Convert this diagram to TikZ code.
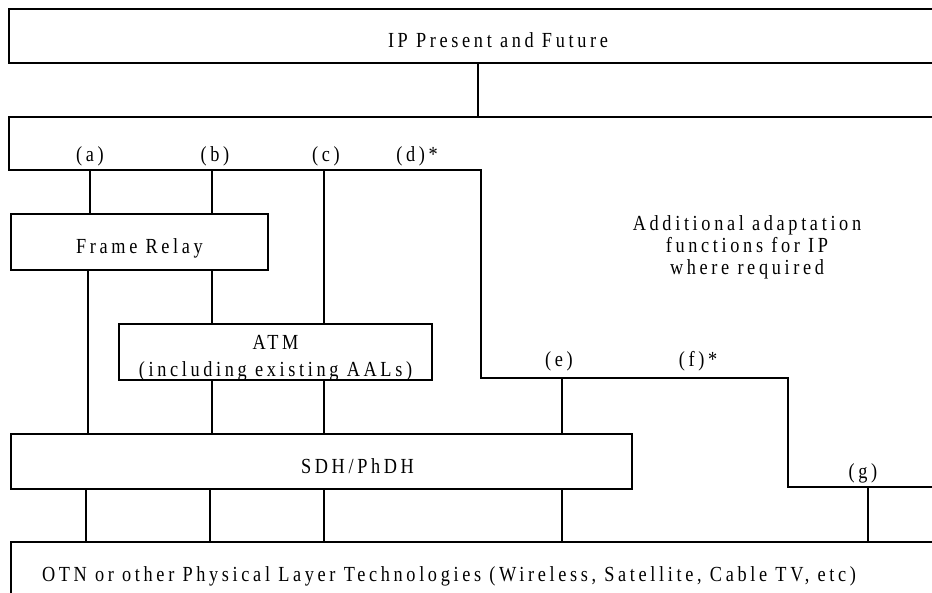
\documentclass[tikz,border=0pt]{standalone}
\usepackage{fontspec}
\setmainfont{Liberation Serif}[FakeStretch=0.85,LetterSpace=17]
\usetikzlibrary{positioning}
\tikzset{
  node distance=0mm,
  every node/.style={outer sep=0mm,inner sep=0mm},
  line/.style={line width=1.2pt}
}
\tikzset{layer/.style={
    draw,
    line width=1.2pt,
    minimum width=#1,
    minimum height=56pt,
    text height=23pt,
    text depth=0pt,
    align=center
  },
  layer/.default=3cm}
\tikzset{tag/.style={font=\fontsize{21.5}{22}\selectfont}}

\begin{document}
\begin{tikzpicture}
  [x=1pt,y=-1pt,font=\fontsize{21.5}{27}\selectfont]
  \useasboundingbox (0,0) rectangle (932,593);
  \clip (0,0) rectangle (932,593);

  \node (IP) [layer=978pt,minimum height=54pt,anchor=north west] at (9,9) {IP Present and Future};

  \node (FR) [layer=257pt,anchor=north west] at (11,214) {Frame Relay};
  \node (ATM) [layer=313pt,text height=50pt,text depth=0pt,anchor=north west] at (119,324)
    {ATM\\(including existing AALs)};
  \node (SDH) [layer=621pt,minimum height=55pt,anchor=north west,
    label={[xshift=36pt,text height=23pt,text depth=0pt]center:SDH/PhDH}] at (11,434) {};
  \node (OTN) [layer=990pt,minimum height=68pt,anchor=north west,
    label={[anchor=west,xshift=31pt]west:OTN or other Physical Layer Technologies (Wireless, Satellite, Cable TV, etc)}]
    at (11,542) {};

  % adaptation area
  \coordinate (IPdrop) at (478,117);
  \coordinate (adapt_ne) at (940,117);
  \coordinate (adapt_nw) at (9,117);
  \coordinate (adapt_sw) at (9,170);
  \coordinate (a) at (90,170);
  \coordinate (b) at (212,170);
  \coordinate (c) at (324,170);
  \coordinate (d) at (481,170);
  \coordinate (d_end) at (481,378);
  \coordinate (e) at (562,378);
  \coordinate (f_end) at (788,378);
  \coordinate (g_start) at (788,487);
  \coordinate (g) at (868,487);
  \coordinate (g_end) at (940,487);

  \draw [line] (IP.south -| IPdrop) -- (IPdrop);
  \draw [line] (adapt_ne) -- (adapt_nw) -- (adapt_sw) -- (d) -- (d_end)
  -- (f_end) -- (g_start) -- (g_end);

  \node (a_tag) [tag,above=3.5pt of a] {(a)};
  \node (b_tag) [tag,above=3.5pt of b,xshift=3pt] {(b)};
  \node (c_tag) [tag,above=3.5pt of c,xshift=2pt] {(c)};
  \node (d_tag) [tag,above=3.5pt of d,xshift=-64pt] {(d)*};
  \node (e_tag) [tag,above=7pt of e,xshift=-3pt] {(e)};
  \node (f_tag) [tag,above=7pt of e,xshift=136pt] {(f)*};
  \node (g_tag) [tag,above=4pt of g,xshift=-5pt] {(g)};

  \node (note) [tag,align=center,anchor=base] at (747,275)
    {Additional adaptation\\functions for IP\\where required};

  \draw [line] (a) -- (a |- FR.north);
  \draw [line] (b) -- (b |- FR.north);
  \draw [line] (c) -- (c |- ATM.north);
  \draw [line] ([xshift=-2pt] FR.south -| a) -- ([xshift=-2pt] SDH.north -| a);
  \draw [line] (FR.south -| b) -- (ATM.north -| b);
  \draw [line] (ATM.south -| b) -- (SDH.north -| b);
  \draw [line] (ATM.south -| c) -- (SDH.north -| c);
  \draw [line] (e) -- (e |- SDH.north);
  \draw [line] ([xshift=-4pt] SDH.south -| a) -- ([xshift=-4pt] OTN.north -| a);
  \draw [line] ([xshift=-2pt] SDH.south -| b) -- ([xshift=-2pt] OTN.north -| b);
  \draw [line] (SDH.south -| c) -- (OTN.north -| c);
  \draw [line] (SDH.south -| e) -- (OTN.north -| e);
  \draw [line] (g) -- (g |- OTN.north);
\end{tikzpicture}
\end{document}
